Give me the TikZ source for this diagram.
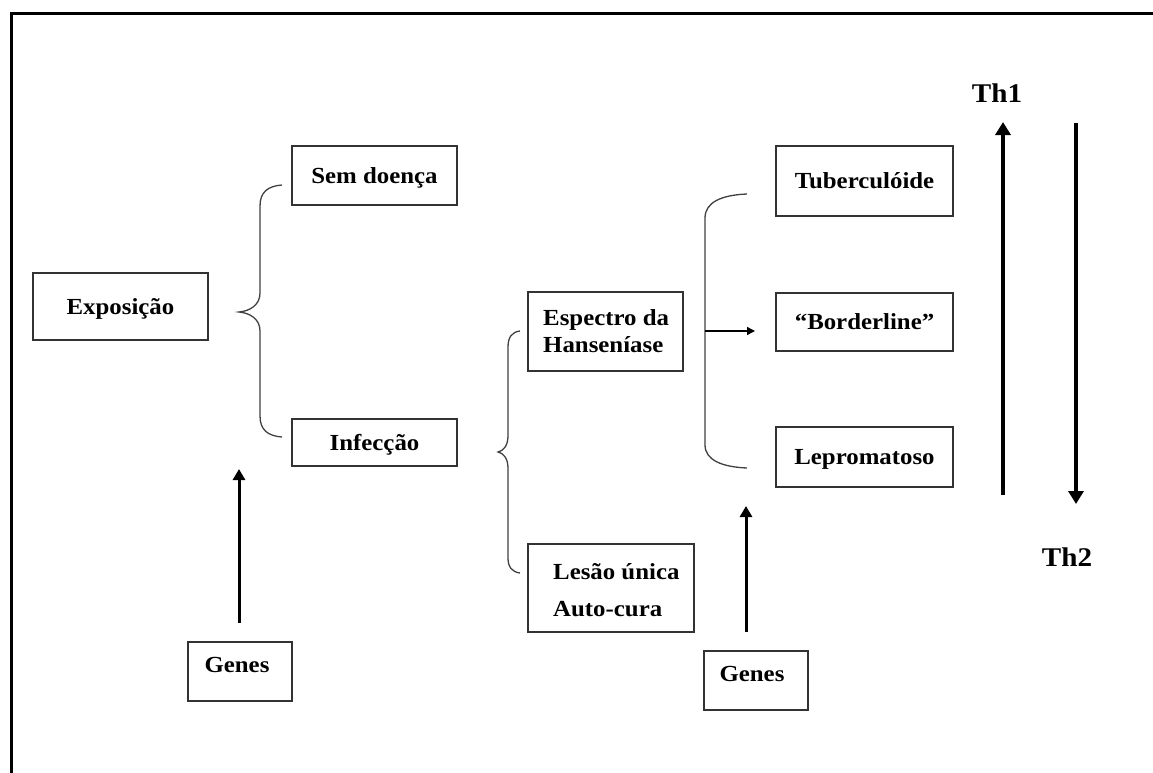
\documentclass[tikz,border=0pt]{standalone}
\usepackage{fontspec}
\setmainfont{Liberation Serif}[FakeStretch=1.08]
\usetikzlibrary{arrows.meta}
\begin{document}
\begin{tikzpicture}[x=1pt,y=-1pt,
  box/.style={draw=black!80, line width=1.4pt, inner sep=0pt, font=\fontsize{23}{27}\selectfont\bfseries, text height=17pt, text depth=2pt},
  txt/.style={inner sep=0pt, font=\fontsize{23}{27}\selectfont\bfseries},
  thtxt/.style={inner sep=0pt, font=\fontsize{27}{30}\selectfont\bfseries},
  brace/.style={draw=black!75, line width=1.3pt},
  bigarrow/.style={line width=4pt, -{Triangle[length=13pt,width=15pt]}},
  genarrow/.style={line width=3pt, -{Triangle[length=11pt,width=12pt]}},
  smallarrow/.style={line width=1.3pt, -{Triangle[length=8pt,width=8pt]}}
]
\useasboundingbox (0,0) rectangle (1153,773);
\clip (0,0) rectangle (1153,773);
% frame
\draw[line width=3pt] (11,790) -- (11,14) -- (1170,14);

% boxes
\node[box, minimum width=175pt, minimum height=67pt] (expo) at (120.5,306.5) {Exposição};
\node[box, minimum width=165pt, minimum height=59pt] (sem) at (374.5,175.5) {Sem doença};
\node[box, minimum width=165pt, minimum height=47pt] (inf) at (374.5,442.5) {Infecção};
\node[box, minimum width=155pt, minimum height=79pt] (esp) at (605.5,331.5) {};
\node[txt, align=left, anchor=west] (espt) at (543,331) {Espectro da\\Hanseníase};
\node[box, minimum width=166pt, minimum height=88pt] (les) at (611,588) {};
\node[txt, align=left, anchor=west, font=\fontsize{23}{37}\selectfont\bfseries] (lest) at (553,590) {Lesão única\\Auto-cura};
\node[box, minimum width=177pt, minimum height=70pt] (tub) at (864.5,181) {Tuberculóide};
\node[box, minimum width=177pt, minimum height=58pt] (bord) at (864.5,322) {“Borderline”};
\node[box, minimum width=177pt, minimum height=60pt] (lep) at (864.5,457) {Lepromatoso};
\node[box, minimum width=104pt, minimum height=59pt] (g1) at (240,671.5) {};
\node[txt] (g1t) at (237,665) {Genes};
\node[box, minimum width=104pt, minimum height=59pt] (g2) at (756,680.5) {};
\node[txt] (g2t) at (752,674) {Genes};

% Th labels
\node[thtxt] (th1) at (997,93) {Th1};
\node[thtxt] (th2) at (1067,557) {Th2};

% braces
\draw[brace] (282,185) .. controls (268,186) and (260,192) .. (260,206) -- (260,293)
  .. controls (260,305) and (250,311) .. (239,312)
  .. controls (250,313) and (260,319) .. (260,331) -- (260,416)
  .. controls (260,430) and (268,436) .. (282,437);
\draw[brace] (520,331) .. controls (512,332) and (508,337) .. (508,347) -- (508,436)
  .. controls (508,446) and (503,451) .. (498,452)
  .. controls (503,453) and (508,458) .. (508,468) -- (508,558)
  .. controls (508,567) and (512,572) .. (520,573);
\draw[brace] (747,194) .. controls (722,195) and (705,202) .. (705,218) -- (705,445)
  .. controls (705,460) and (722,467) .. (747,468);

% arrows
\coordinate (bmid) at (705,331);
\coordinate (bend) at (755,331);
\draw[smallarrow] (bmid) -- (bend);
\coordinate (g1s) at (239,623);
\coordinate (g1e) at (239,469);
\draw[genarrow] (g1s) -- (g1e);
\coordinate (g2s) at (746,632);
\coordinate (g2e) at (746,506);
\draw[genarrow] (g2s) -- (g2e);
\coordinate (th1s) at (1003,495);
\coordinate (th1e) at (1003,122);
\draw[bigarrow] (th1s) -- (th1e);
\coordinate (th2s) at (1076,123);
\coordinate (th2e) at (1076,504);
\draw[bigarrow] (th2s) -- (th2e);
\end{tikzpicture}
\end{document}
